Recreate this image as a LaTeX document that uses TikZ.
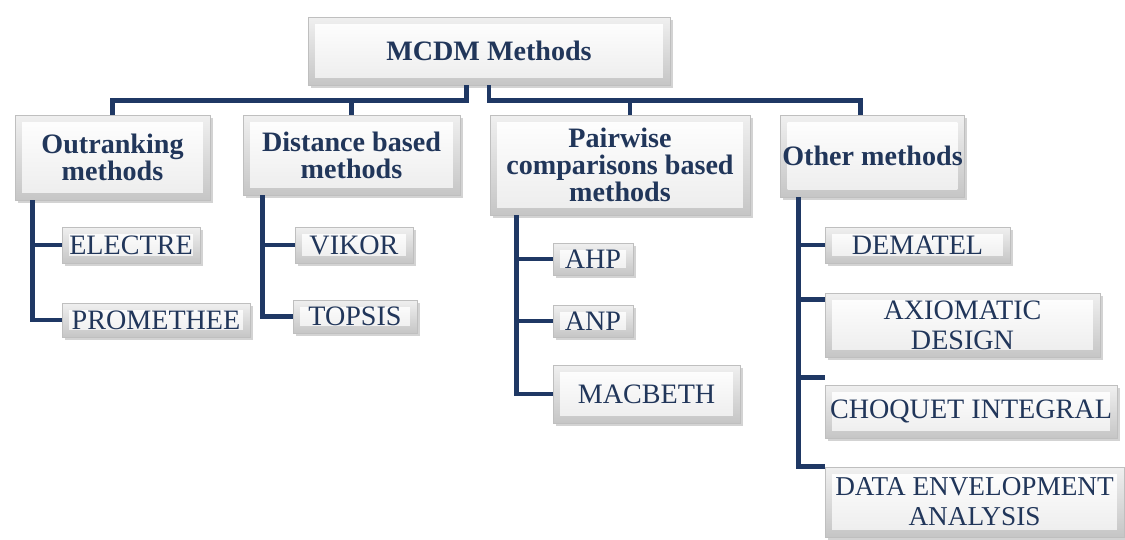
\documentclass[tikz,border=0pt]{standalone}
\usepackage{fontspec}
\setmainfont{Liberation Serif}
\usetikzlibrary{calc}
\usetikzlibrary{shadows}
\definecolor{navyline}{RGB}{31,56,100}
\definecolor{navytext}{RGB}{33,54,90}

\begin{document}
\begin{tikzpicture}[x=0.02cm, y=-0.02cm,
        box/.style={draw=gray!50, top color=gray!12, bottom color=gray!45, text=navytext, align=center, inner sep=1pt,
            drop shadow={shadow xshift=1.5pt, shadow yshift=-1.5pt, opacity=0.35},
            path picture={\shade[top color=white, bottom color=gray!15]
                ([shift={(4pt,-4pt)}]path picture bounding box.north west) rectangle
                ([shift={(-4pt,4pt)}]path picture bounding box.south east);}},
        head/.style={box, font=\fontsize{16}{15.5}\selectfont\bfseries},
        item/.style={box, font=\fontsize{16}{17}\selectfont},
        conn/.style={draw=navyline, line width=2.8pt}]
            \useasboundingbox (0,0) rectangle (1125,539);

            % Root
            \node[head, minimum width=7.24cm, minimum height=1.36cm] (root) at (489,51) {MCDM Methods};

            % Groups
            \node[head, minimum width=3.9cm, minimum height=1.7cm] (out) at (112.5,157.5) {Outranking\\methods};
            \node[head, minimum width=4.34cm, minimum height=1.6cm] (dist) at (351.5,155) {Distance based\\methods};
            \node[head, minimum width=5.2cm, minimum height=2.0cm] (pair) at (620,165) {Pairwise\\comparisons based\\methods};
            \node[head, minimum width=3.62cm, minimum height=1.64cm] (oth) at (872.5,156) {Other methods};

            % Methods
            \node[item, minimum width=2.76cm, minimum height=0.72cm] (electre) at (131,245) {ELECTRE};
            \node[item, minimum width=3.76cm, minimum height=0.68cm] (prom) at (156,320) {PROMETHEE};
            \node[item, minimum width=2.36cm, minimum height=0.72cm] (vikor) at (354,245) {VIKOR};
            \node[item, minimum width=2.48cm, minimum height=0.66cm] (topsis) at (355,316.5) {TOPSIS};
            \node[item, minimum width=1.6cm, minimum height=0.64cm] (ahp) at (593,259) {AHP};
            \node[item, minimum width=1.6cm, minimum height=0.64cm] (anp) at (593,321) {ANP};
            \node[item, minimum width=3.74cm, minimum height=1.16cm] (macbeth) at (646.5,394) {MACBETH};
            \node[item, minimum width=3.7cm, minimum height=0.72cm] (dematel) at (917.5,245) {DEMATEL};
            \node[item, minimum width=5.5cm, minimum height=1.28cm] (axio) at (962.5,325) {AXIOMATIC\\DESIGN};
            \node[item, minimum width=5.84cm, minimum height=1.06cm] (choq) at (971,411.5) {CHOQUET INTEGRAL};
            \node[item, font=\fontsize{15.5}{17}\selectfont, minimum width=5.98cm, minimum height=1.4cm] (dea) at (974.5,502) {DATA ENVELOPMENT\\ANALYSIS};

            % Root to groups
            \draw[conn] ([xshift=-13pt]root.south) -- ++(0,15) -| (out.north);
            \draw[conn] ([xshift=-13pt]root.south) -- ++(0,15) -| (dist.north);
            \draw[conn] (root.south) -- ++(0,15) -| ([xshift=5.7pt]pair.north);
            \draw[conn] (root.south) -- ++(0,15) -| ([xshift=-7pt]oth.north);

            % Groups to methods
            \draw[conn] ([xshift=10pt]out.south west) |- (electre.west);
            \draw[conn] ([xshift=10pt]out.south west) |- (prom.west);
            \draw[conn] ([xshift=11.3pt]dist.south west) |- (vikor.west);
            \draw[conn] ([xshift=11.3pt]dist.south west) |- (topsis.west);
            \draw[conn] ([xshift=15.3pt]pair.south west) |- (ahp.west);
            \draw[conn] ([xshift=15.3pt]pair.south west) |- (anp.west);
            \draw[conn] ([xshift=15.3pt]pair.south west) |- (macbeth.west);
            \draw[conn] ([xshift=10.2pt]oth.south west) |- (dematel.west);
            \draw[conn] ([xshift=10.2pt]oth.south west) |- ([yshift=-4pt]axio.north west);
            \draw[conn] ([xshift=10.2pt]oth.south west) |- ([yshift=4pt]choq.north west);
            \draw[conn] ([xshift=10.2pt]oth.south west) |- (dea.north west);

        \end{tikzpicture}
\end{document}
